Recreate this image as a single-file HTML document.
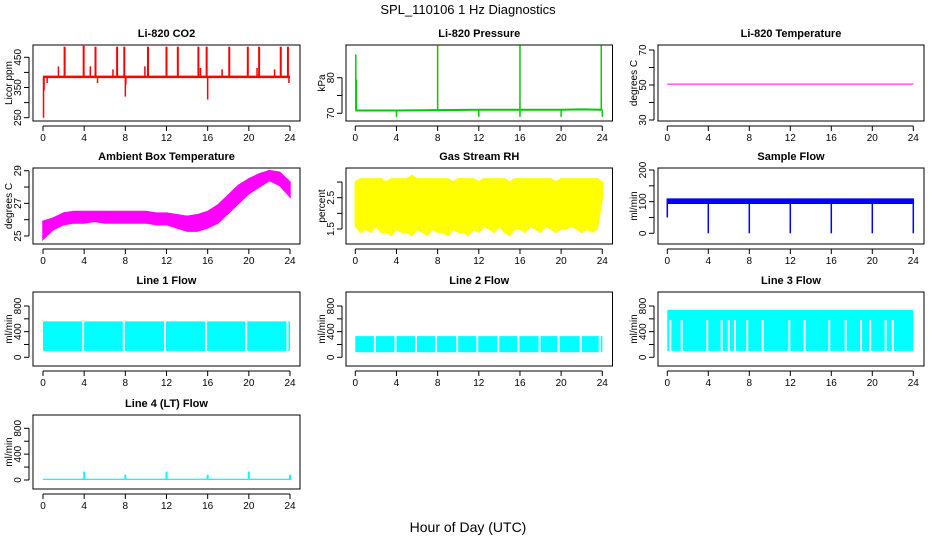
<!DOCTYPE html>
<html><head><meta charset="utf-8">
<style>
html,body{margin:0;padding:0;background:#fff;}
svg{display:block;font-family:"Liberation Sans",Arial,sans-serif;}
</style></head>
<body>
<svg id="chart" width="936" height="540" viewBox="0 0 936 540">
<rect width="936" height="540" fill="#fff"/>
<text x="468" y="14" font-size="13" text-anchor="middle">SPL_110106  1 Hz Diagnostics</text>
<text x="468" y="532" font-size="14" text-anchor="middle">Hour of Day (UTC)</text>
</svg>
<script>
// ---------- data ----------
const xTicks=[0,4,8,12,16,20,24];
const hourGrid=[0,1,2,3,4,5,6,7,8,9,10,11,12,13,14,15,16,17,18,19,20,21,22,23,24];
// CO2
const co2Base=385;
const co2SpikeHours=[2.1,3.95,5.1,7.2,7.9,10.2,12.0,13.1,15.1,15.9,18.1,19.9,21.0,23.1,23.8];
const co2SpikeValues=[485,488,485,485,485,485,485,485,485,485,485,485,485,485,485];
const co2SmallHours=[1.5,4.6,6.8,9.9,15.3,17.4,20.8,22.5];
const co2SmallValues=[420,420,410,420,415,410,415,410];
const co2DipHours=[0.05,0.1,8.0,16.0,8.05,0.4,5.3,23.9];
const co2DipValues=[250,340,320,310,360,365,365,365];
// Pressure
const presBase=[70.8,70.8,70.9,71.0,71.0,71.0,71.1,71.0];
const presBaseHours=[0,4,8,12,16,20,22,24];
const presSpikeHours=[0.05,0.1,8.0,16.0,23.9];
const presSpikeValues=[86.5,79.5,89,89,89];
const presDipHours=[4,12,16,20,24];
const presDipValues=[69,69,69,69,69];
// Li-820 temperature
const tempHours=[0,24];
const tempValues=[50.5,50.5];
// Ambient box temperature
const ambLow=[24.8,25.4,25.7,25.8,25.8,25.9,25.8,25.8,25.8,25.8,25.8,25.7,25.7,25.5,25.3,25.3,25.5,25.8,26.4,27.0,27.6,28.0,28.4,28.1,27.4];
const ambHigh=[25.9,26.1,26.4,26.5,26.5,26.5,26.5,26.5,26.5,26.5,26.5,26.4,26.4,26.3,26.2,26.3,26.5,26.9,27.5,28.1,28.5,28.8,29.0,28.9,28.3];
// Gas stream RH (half-hour grid)
const rhHours=[0,0.5,1,1.5,2,2.5,3,3.5,4,4.5,5,5.5,6,6.5,7,7.5,8,8.5,9,9.5,10,10.5,11,11.5,12,12.5,13,13.5,14,14.5,15,15.5,16,16.5,17,17.5,18,18.5,19,19.5,20,20.5,21,21.5,22,22.5,23,23.5,24];
const rhLow=[1.6,1.4,1.5,1.4,1.6,1.4,1.4,1.3,1.5,1.4,1.4,1.3,1.5,1.4,1.3,1.5,1.4,1.4,1.3,1.5,1.4,1.4,1.3,1.5,1.4,1.6,1.5,1.4,1.6,1.4,1.3,1.5,1.5,1.4,1.6,1.5,1.4,1.6,1.5,1.4,1.5,1.5,1.6,1.5,1.4,1.5,1.4,1.5,2.5];
const rhHigh=[3.0,3.1,3.1,3.1,3.1,3.1,3.0,3.1,3.1,3.1,3.1,3.2,3.1,3.1,3.1,3.1,3.1,3.1,3.1,3.0,3.1,3.1,3.1,3.1,3.0,3.1,3.1,3.1,3.1,3.1,3.0,3.1,3.1,3.1,3.1,3.1,3.1,3.1,3.1,3.0,3.1,3.1,3.1,3.1,3.1,3.1,3.1,3.1,3.0];
// Sample flow
const sfLow=[95,95,95,95,95];
const sfHigh=[108,108,108,108,108];
const sfEnvHours=[0,6,12,18,24];
const sfDipHours=[0,4,8,12,16,20,24];
const sfDipValues=[50,0,0,0,0,0,0];
// Line flows
const l1Low=100, l1High=560;
const l1Gaps=[3.9,7.85,11.85,15.85,19.75,23.75];
const l2Low=80, l2High=330;
const l2Gaps=[3.9,7.85,11.85,15.85,19.75,23.75,1.9,5.9,9.9,13.9,17.9,21.9];
const l3Low=100, l3High=740;
const l3Gaps=[0.3,1.4,3.9,5.3,6.0,6.6,7.8,9.3,11.9,13.4,15.8,17.4,18.9,19.8,21.3,22.0];
const l4Low=0, l4High=20;
const l4SpikeHours=[4,8,12,16,20,24];
const l4SpikeValues=[130,80,130,80,130,80];

// ---------- drawing helpers ----------
const svg=document.getElementById('chart');
const NS='http://www.w3.org/2000/svg';
function mk(tag,attrs,parent){const e=document.createElementNS(NS,tag);for(const k in attrs)e.setAttribute(k,attrs[k]);(parent||svg).appendChild(e);return e;}
const colLeft=[33,346,658], colRight=[300,612.5,924];
const colX0=[43,355.3,667.3], colX24=[290,602.3,913.3];
const rowTop=[45,168,292,415], rowBot=[121,244,366,489];

function panel(name,col,row,title,ylab,ticks,labels,v0,p0,v1,p1){
  const g=mk('g',{});
  
  
  const L=colLeft[col],R=colRight[col],T=rowTop[row],B=rowBot[row];
  const x=h=>colX0[col]+(colX24[col]-colX0[col])*h/24;
  const y=v=>p0+(p1-p0)*(v-v0)/(v1-v0);
  const t=mk('text',{x:(L+R)/2,y:T-8,'font-size':11,'font-weight':'bold','text-anchor':'middle'},g);
  t.textContent=title;
  
  
  const yl=mk('text',{x:0,y:0,'font-size':10,'text-anchor':'middle',transform:`translate(${L-21},${(T+B)/2}) rotate(-90)`},g);
  yl.textContent=ylab;
  
  
  const plot=mk('g',{},g);
  
  
  const box=mk('rect',{x:L,y:T,width:R-L,height:B-T,fill:'none',stroke:'#000','stroke-width':1},g);
  
  
  const xa=mk('g',{},g);
  
  
  mk('line',{x1:x(0),x2:x(24),y1:B+5,y2:B+5,stroke:'#000'},xa);
  xTicks.forEach(h=>{
    mk('line',{x1:x(h),x2:x(h),y1:B+5,y2:B+10,stroke:'#000'},xa);
    const tl=mk('text',{x:x(h),y:B+20,'font-size':10,'text-anchor':'middle'},xa);
    tl.textContent=h;
  });
  const ya=mk('g',{},g);
  
  
  mk('line',{x1:L-4,x2:L-4,y1:y(ticks[0]),y2:y(ticks[ticks.length-1]),stroke:'#000'},ya);
  ticks.forEach(v=>{
    mk('line',{x1:L-9,x2:L-4,y1:y(v),y2:y(v),stroke:'#000'},ya);
  });
  labels.forEach(v=>{
    const tl=mk('text',{x:0,y:0,'font-size':10,'text-anchor':'middle',transform:`translate(${L-12},${y(v)}) rotate(-90)`},ya);
    tl.textContent=v;
  });
  return {x,y,g:plot};
}
function seg(p,h,v1,v2,color,w){mk('line',{x1:p.x(h),x2:p.x(h),y1:p.y(v1),y2:p.y(v2),stroke:color,'stroke-width':w||1.5},p.g);}
function band(p,hs,lo,hi,color){
  let pts=hs.map((h,i)=>p.x(h)+','+p.y(hi[i]));
  for(let i=hs.length-1;i>=0;i--)pts.push(p.x(hs[i])+','+p.y(lo[i]));
  mk('polygon',{points:pts.join(' '),fill:color,stroke:color,'stroke-width':1.5},p.g);
}
function rectBand(p,lo,hi,color){mk('rect',{x:p.x(0),y:p.y(hi),width:p.x(24)-p.x(0),height:p.y(lo)-p.y(hi),fill:color},p.g);}

// CO2
const pCO2=panel('co2',0,0,'Li-820 CO2','Licor ppm',[250,300,350,400,450],[250,350,450],250,117.7,450,57.3);
mk('line',{x1:pCO2.x(0),x2:pCO2.x(24),y1:pCO2.y(co2Base),y2:pCO2.y(co2Base),stroke:'red','stroke-width':2.5},pCO2.g);
co2SpikeHours.forEach((h,i)=>seg(pCO2,h,co2Base,co2SpikeValues[i],'red',2));
co2SmallHours.forEach((h,i)=>seg(pCO2,h,co2Base,co2SmallValues[i],'red',1.5));
co2DipHours.forEach((h,i)=>seg(pCO2,h,co2Base,co2DipValues[i],'red',1.5));

// Pressure
const pP=panel('pressure',1,0,'Li-820 Pressure','kPa',[70,75,80],[70,80],70,113.3,80,77.7);
{const pts=presBaseHours.map((h,i)=>pP.x(h)+','+pP.y(presBase[i])).join(' ');
 mk('polyline',{points:pts,fill:'none',stroke:'#00cc00','stroke-width':2},pP.g);}
presSpikeHours.forEach((h,i)=>seg(pP,h,71,presSpikeValues[i],'#00cc00',1.5));
presDipHours.forEach((h,i)=>seg(pP,h,71,presDipValues[i],'#00cc00',1.5));

// Temperature
const pT=panel('li820-temperature',2,0,'Li-820 Temperature','degrees C',[30,40,50,60,70],[30,50,70],30,120,70,50);
mk('line',{x1:pT.x(tempHours[0]),x2:pT.x(tempHours[1]),y1:pT.y(tempValues[0]),y2:pT.y(tempValues[1]),stroke:'#ff00ff','stroke-width':1},pT.g);

// Ambient
const pA=panel('ambient-temperature',0,1,'Ambient Box Temperature','degrees C',[25,26,27,28,29],[25,27,29],25,236,29,170.7);
band(pA,hourGrid,ambLow,ambHigh,'#ff00ff');

// RH
const pR=panel('gas-stream-rh',1,1,'Gas Stream RH','percent',[1.5,2,2.5,3],[1.5,2.5],1.5,229,2.5,197.7);
band(pR,rhHours,rhLow,rhHigh,'#ffff00');

// Sample flow
const pS=panel('sample-flow',2,1,'Sample Flow','ml/min',[0,50,100,150,200],[0,100,200],0,233.3,200,170);
band(pS,sfEnvHours,sfLow,sfHigh,'#0000ff');
sfDipHours.forEach((h,i)=>seg(pS,h,100,sfDipValues[i],'#0000ff',1.5));

// Line flows
const flowTicks=[0,200,400,600,800], flowLabels=[0,400,800];
function flowPanel(name,col,row,title,lo,hi,gaps,p0,p1){
  const p=panel(name,col,row,title,'ml/min',flowTicks,flowLabels,0,p0,800,p1);
  rectBand(p,lo,hi,'#00ffff');
  gaps.forEach(h=>mk('line',{x1:p.x(h),x2:p.x(h),y1:p.y(lo),y2:p.y(Math.min(hi,580)),stroke:'#fff','stroke-width':2},p.g));
  return p;
}
flowPanel('line1-flow',0,2,'Line 1 Flow',l1Low,l1High,l1Gaps,357.3,306);
flowPanel('line2-flow',1,2,'Line 2 Flow',l2Low,l2High,l2Gaps,357.3,306);
flowPanel('line3-flow',2,2,'Line 3 Flow',l3Low,l3High,l3Gaps,357.3,306);
const p4=flowPanel('line4-flow',0,3,'Line 4 (LT) Flow',l4Low,l4High,[],480,428.3);
l4SpikeHours.forEach((h,i)=>seg(p4,h,0,l4SpikeValues[i],'#00ffff',2));
</script>
</body></html>
